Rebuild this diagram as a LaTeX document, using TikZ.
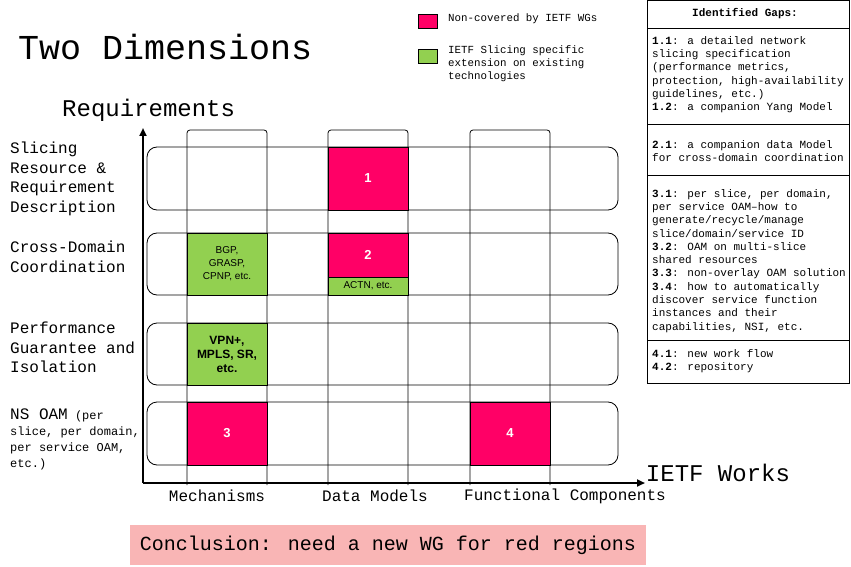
\documentclass[tikz,border=0pt]{standalone}
\usepackage{fontspec}
\setmainfont{Liberation Mono}
\newfontfamily\arialf{Liberation Sans}
\usetikzlibrary{arrows.meta}
\definecolor{rd}{HTML}{FF0066}
\definecolor{gr}{HTML}{92D050}
\definecolor{pk}{HTML}{F9B5B5}
\tikzset{
 colbox/.style={draw,rounded corners=3pt,line width=0.8pt},
 rowbox/.style={draw,rounded corners=10pt,line width=0.8pt},
 redcell/.style={draw,fill=rd,line width=0.8pt,text=white,font=\arialf\bfseries\fontsize{13}{14}\selectfont},
 grcell/.style={draw,fill=gr,line width=0.8pt,font=\arialf\fontsize{10}{13}\selectfont,align=center},
 lbl/.style={anchor=north west,inner sep=0pt,align=left,font=\fontsize{16}{19.5}\selectfont},
 gap/.style={anchor=north west,inner sep=0pt,align=left,font=\fontsize{11}{13.3}\selectfont},
 panel/.style={draw,line width=0.8pt},
}
\begin{document}
\begin{tikzpicture}[x=1pt,y=-1pt]
\useasboundingbox (0,0) rectangle (851,567);
% columns
\foreach \n/\a in {c1/187,c2/328,c3/470}{
 \draw[colbox] (\a,485) |- (\a+80,130) -- (\a+80,485);
}
% rows
\draw[rowbox] (147,147) rectangle (618,210);
\draw[rowbox] (147,233) rectangle (618,295);
\draw[rowbox] (147,323) rectangle (618,385);
\draw[rowbox] (147,402) rectangle (618,465);
% cells
\path[redcell] (328,147) rectangle (408,210) node[midway] (r1) {1};
\path[grcell] (187,233) rectangle (267,295) node[midway,font=\arialf\fontsize{10}{13}\selectfont,align=center] (g1) {BGP,\\GRASP,\\CPNP, etc.};
\path[redcell] (328,233) rectangle (408,277) node[midway] (r2) {2};
\path[grcell] (328,277) rectangle (408,295) node[midway,font=\arialf\fontsize{10}{12}\selectfont] (g2) {ACTN, etc.};
\path[grcell] (187,323) rectangle (267,385) node[midway,font=\arialf\bfseries\fontsize{12}{14}\selectfont,align=center] (g3) {VPN+,\\MPLS, SR,\\etc.};
\path[redcell] (187,402) rectangle (267,465) node[midway] (r3) {3};
\path[redcell] (470,402) rectangle (550,465) node[midway] (r4) {4};
% axes
\coordinate (o) at (143,483);
\coordinate (yt) at (143,128);
\coordinate (xt) at (645,483);
\draw[line width=2pt,-{Triangle[length=8pt,width=7pt]}] (o) -- (yt);
\draw[line width=2pt,-{Triangle[length=8pt,width=7pt]}] (o) -- (xt);
% axis labels
\node[font=\fontsize{16}{19}\selectfont] (m) at (217,496) {Mechanisms};
\node[font=\fontsize{16}{19}\selectfont] (dm) at (375,496) {Data Models};
\node[font=\fontsize{16}{19}\selectfont] (fc) at (565,496) {Functional Components};
\node[font=\fontsize{24}{28}\selectfont] (iw) at (718,473) {IETF Works};
\node[anchor=west,inner sep=0pt,font=\fontsize{24}{28}\selectfont] (req) at (62,110) {Requirements};
\node[anchor=west,inner sep=0pt,font=\fontsize{35}{40}\selectfont] (title) at (18,47) {Two Dimensions};
% row labels
\node[lbl] (l1) at (10,142) {Slicing\\Resource \&\\Requirement\\Description};
\node[lbl] (l2) at (10,241) {Cross-Domain\\Coordination};
\node[lbl] (l3) at (10,322) {Performance\\Guarantee and\\Isolation};
\node[anchor=north west,inner sep=0pt,align=left,font=\fontsize{12}{16}\selectfont] (l4) at (10,409) {{\fontsize{16}{16}\selectfont NS OAM} (per\\slice, per domain,\\per service OAM,\\etc.)};
% legend
\node[draw,fill=rd,minimum width=19pt,minimum height=14pt,inner sep=0pt,line width=0.8pt] (lr) at (428,21) {};
\node[draw,fill=gr,minimum width=19pt,minimum height=14pt,inner sep=0pt,line width=0.8pt] (lg) at (428,56) {};
\node[anchor=west,inner sep=0pt,font=\fontsize{10.8}{13.3}\selectfont] (lrt) at (448,19) {Non-covered by IETF WGs};
\node[anchor=north west,inner sep=0pt,align=left,font=\fontsize{10.8}{13.3}\selectfont] (lgt) at (448,45) {IETF Slicing specific\\extension on existing\\technologies};
% panel
\draw[panel] (647,0) rectangle (849,383);
\draw[panel] (647,28) -- (849,28);
\draw[panel] (647,124) -- (849,124);
\draw[panel] (647,175) -- (849,175);
\draw[panel] (647,340) -- (849,340);
\node[font=\bfseries\fontsize{11}{13}\selectfont] (hd) at (745,14) {Identified Gaps:};
\node[gap] (p1) at (652,36) {\textbf{1.1}: a detailed network\\slicing specification\\(performance metrics,\\protection, high-availability\\guidelines, etc.)\\\textbf{1.2}: a companion Yang Model};
\node[gap] (p2) at (652,140) {\textbf{2.1}: a companion data Model\\for cross-domain coordination};
\node[gap] (p3) at (652,189) {\textbf{3.1}: per slice, per domain,\\per service OAM--how to\\generate/recycle/manage\\slice/domain/service ID\\\textbf{3.2}: OAM on multi-slice\\shared resources\\\textbf{3.3}: non-overlay OAM solution\\\textbf{3.4}: how to automatically\\discover service function\\instances and their\\capabilities, NSI, etc.};
\node[gap] (p4) at (652,349) {\textbf{4.1}: new work flow\\\textbf{4.2}: repository};
% conclusion
\node[fill=pk,minimum width=516pt,minimum height=40pt,inner sep=0pt,font=\fontsize{20}{24}\selectfont] (cc) at (388,545) {Conclusion: need a new WG for red regions};
\end{tikzpicture}
\end{document}
